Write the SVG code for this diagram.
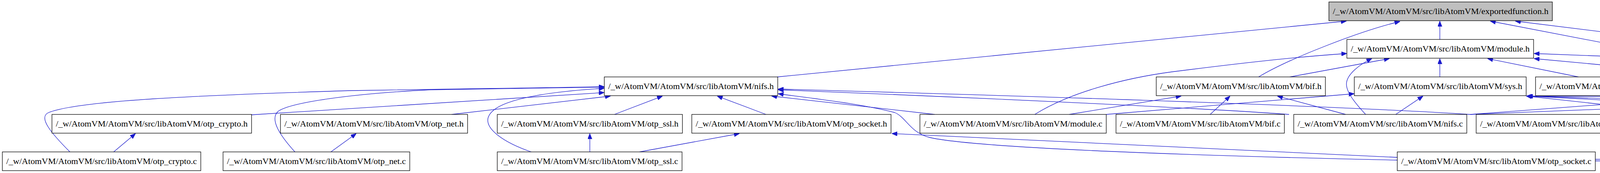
<svg xmlns="http://www.w3.org/2000/svg" width="6506" height="443" viewBox="0 0 6506 443">
<style>
.n rect{fill:#fff;stroke:#000;stroke-width:1.3}
.cur rect{fill:#bfbfbf}
.n text{font-family:"Liberation Serif","Times New Roman",serif;font-size:22px;fill:#000}
.e path{fill:none;stroke:#1a1acc;stroke-width:1.3;marker-end:url(#a)}
</style>
<defs>
<marker id="a" markerUnits="userSpaceOnUse" markerWidth="14" markerHeight="11" refX="14" refY="5.5" orient="auto" viewBox="0 0 14 11">
<path d="M0,0 L14,5.5 L0,11 z" fill="#1a1acc" stroke="#1a1acc" stroke-width="1"/>
</marker>
</defs>
<rect width="6506" height="443" fill="#fff"/>
<g id="edges" class="e">
<path d="M1990,197 L3447,54"/>
<path d="M3222,197 C3300,150 3480,80 3584,55"/>
<path d="M3686,101 L3686,54"/>
<path d="M4558,197 L3815,54"/>
<path d="M5033,197 L3879,54"/>
<path d="M2649,293 C2740,236 2880,200 3000,184 C3150,165 3300,147 3448,137"/>
<path d="M3302,197 L3557,150"/>
<path d="M3496,293 C3470,265 3445,235 3447,213 C3449,190 3480,165 3512,150"/>
<path d="M3686,197 L3686,150"/>
<path d="M4041,197 L3808,150"/>
<path d="M4433,197 L3927,150"/>
<path d="M5797,209 L3927,137"/>
<path d="M2737,293 L3024,246"/>
<path d="M3098,293 L3149,246"/>
<path d="M3445,293 L3270,246"/>
<path d="M2832,293 L3467,240"/>
<path d="M3573,293 L3643,246"/>
<path d="M4335,293 L3907,246"/>
<path d="M4807,293 L3910,246"/>
<path d="M5380,293 L3910,246"/>
<path d="M4084,408 C4600,402 5250,385 5312,347 C5342,328 5340,300 5312,283 C5200,258 4500,248 3908,246"/>
<path d="M179,389 C135,345 95,300 125,288 C200,258 500,244 900,232 L1547,222"/>
<path d="M755,389 C715,345 690,305 712,285 C745,262 900,240 1100,230 L1547,223"/>
<path d="M644,294 L1547,237"/>
<path d="M1156,293 L1563,246"/>
<path d="M1360,389 C1290,365 1240,330 1250,300 C1265,255 1400,235 1547,226"/>
<path d="M1573,293 L1696,246"/>
<path d="M1961,293 L1836,246"/>
<path d="M2393,293 L1975,246"/>
<path d="M3577,410 C3100,400 2500,380 2380,352 C2330,340 2320,300 2290,288 C2200,265 2100,255 1992,240"/>
<path d="M3300,293 C3100,278 2500,250 1992,230"/>
<path d="M3764,293 C3400,270 2600,245 1992,228"/>
<path d="M3764,293 L4405,245"/>
<path d="M3764,293 L4968,245"/>
<path d="M4280,293 L4968,246"/>
<path d="M5546,293 L5329,246"/>
<path d="M4084,412 C4900,412 5800,400 5919,347 C5945,335 5950,295 5919,283 C5800,245 5600,235 5472,232"/>
<path d="M6200,293 L6108,246"/>
<path d="M291,389 L347,342"/>
<path d="M847,389 L912,342"/>
<path d="M1510,389 L1510,342"/>
<path d="M1637,389 L1893,342"/>
<path d="M3577,403 L2283,342"/>
</g>
<g id="exportedfunction_h" class="n cur"><rect x="3402" y="5" width="572" height="48"/><text x="3412" y="36" textLength="552" lengthAdjust="spacingAndGlyphs">/_w/AtomVM/AtomVM/src/libAtomVM/exportedfunction.h</text></g>
<g id="module_h" class="n"><rect x="3448" y="101" width="478" height="48"/><text x="3458" y="132" textLength="458" lengthAdjust="spacingAndGlyphs">/_w/AtomVM/AtomVM/src/libAtomVM/module.h</text></g>
<g id="nifs_h" class="n"><rect x="1547" y="197" width="444" height="48"/><text x="1557" y="228" textLength="424" lengthAdjust="spacingAndGlyphs">/_w/AtomVM/AtomVM/src/libAtomVM/nifs.h</text></g>
<g id="bif_h" class="n"><rect x="2960" y="197" width="433" height="48"/><text x="2970" y="228" textLength="413" lengthAdjust="spacingAndGlyphs">/_w/AtomVM/AtomVM/src/libAtomVM/bif.h</text></g>
<g id="sys_h" class="n"><rect x="3467" y="197" width="440" height="48"/><text x="3477" y="228" textLength="420" lengthAdjust="spacingAndGlyphs">/_w/AtomVM/AtomVM/src/libAtomVM/sys.h</text></g>
<g id="term_c" class="n"><rect x="3931" y="197" width="454" height="48"/><text x="3941" y="228" textLength="434" lengthAdjust="spacingAndGlyphs">/_w/AtomVM/AtomVM/src/libAtomVM/term.c</text></g>
<g id="platform_nifs_h" class="n"><rect x="4409" y="197" width="535" height="48"/><text x="4419" y="228" textLength="515" lengthAdjust="spacingAndGlyphs">/_w/AtomVM/AtomVM/src/libAtomVM/platform_nifs.h</text></g>
<g id="posix_nifs_h" class="n"><rect x="4968" y="197" width="503" height="48"/><text x="4978" y="228" textLength="483" lengthAdjust="spacingAndGlyphs">/_w/AtomVM/AtomVM/src/libAtomVM/posix_nifs.h</text></g>
<g id="stacktrace_h" class="n"><rect x="5797" y="197" width="510" height="48"/><text x="5807" y="228" textLength="490" lengthAdjust="spacingAndGlyphs">/_w/AtomVM/AtomVM/src/libAtomVM/stacktrace.h</text></g>
<g id="otp_crypto_h" class="n"><rect x="133" y="293" width="511" height="48"/><text x="143" y="324" textLength="491" lengthAdjust="spacingAndGlyphs">/_w/AtomVM/AtomVM/src/libAtomVM/otp_crypto.h</text></g>
<g id="otp_net_h" class="n"><rect x="718" y="293" width="479" height="48"/><text x="728" y="324" textLength="459" lengthAdjust="spacingAndGlyphs">/_w/AtomVM/AtomVM/src/libAtomVM/otp_net.h</text></g>
<g id="otp_ssl_h" class="n"><rect x="1273" y="293" width="474" height="48"/><text x="1283" y="324" textLength="454" lengthAdjust="spacingAndGlyphs">/_w/AtomVM/AtomVM/src/libAtomVM/otp_ssl.h</text></g>
<g id="otp_socket_h" class="n"><rect x="1771" y="293" width="510" height="48"/><text x="1781" y="324" textLength="490" lengthAdjust="spacingAndGlyphs">/_w/AtomVM/AtomVM/src/libAtomVM/otp_socket.h</text></g>
<g id="module_c" class="n"><rect x="2355" y="293" width="477" height="48"/><text x="2365" y="324" textLength="457" lengthAdjust="spacingAndGlyphs">/_w/AtomVM/AtomVM/src/libAtomVM/module.c</text></g>
<g id="bif_c" class="n"><rect x="2857" y="293" width="431" height="48"/><text x="2867" y="324" textLength="411" lengthAdjust="spacingAndGlyphs">/_w/AtomVM/AtomVM/src/libAtomVM/bif.c</text></g>
<g id="nifs_c" class="n"><rect x="3312" y="293" width="443" height="48"/><text x="3322" y="324" textLength="423" lengthAdjust="spacingAndGlyphs">/_w/AtomVM/AtomVM/src/libAtomVM/nifs.c</text></g>
<g id="posix_nifs_c" class="n"><rect x="3779" y="293" width="501" height="48"/><text x="3789" y="324" textLength="481" lengthAdjust="spacingAndGlyphs">/_w/AtomVM/AtomVM/src/libAtomVM/posix_nifs.c</text></g>
<g id="context_c" class="n"><rect x="4305" y="293" width="479" height="48"/><text x="4315" y="324" textLength="459" lengthAdjust="spacingAndGlyphs">/_w/AtomVM/AtomVM/src/libAtomVM/context.c</text></g>
<g id="resources_c" class="n"><rect x="4808" y="293" width="500" height="48"/><text x="4818" y="324" textLength="480" lengthAdjust="spacingAndGlyphs">/_w/AtomVM/AtomVM/src/libAtomVM/resources.c</text></g>
<g id="globalcontext_c" class="n"><rect x="5384" y="293" width="536" height="48"/><text x="5394" y="324" textLength="516" lengthAdjust="spacingAndGlyphs">/_w/AtomVM/AtomVM/src/libAtomVM/globalcontext.c</text></g>
<g id="stacktrace_c" class="n"><rect x="5995" y="293" width="510" height="48"/><text x="6005" y="324" textLength="490" lengthAdjust="spacingAndGlyphs">/_w/AtomVM/AtomVM/src/libAtomVM/stacktrace.c</text></g>
<g id="otp_crypto_c" class="n"><rect x="6" y="389" width="508" height="48"/><text x="16" y="420" textLength="488" lengthAdjust="spacingAndGlyphs">/_w/AtomVM/AtomVM/src/libAtomVM/otp_crypto.c</text></g>
<g id="otp_net_c" class="n"><rect x="571" y="389" width="478" height="48"/><text x="581" y="420" textLength="458" lengthAdjust="spacingAndGlyphs">/_w/AtomVM/AtomVM/src/libAtomVM/otp_net.c</text></g>
<g id="otp_ssl_c" class="n"><rect x="1273" y="389" width="473" height="48"/><text x="1283" y="420" textLength="453" lengthAdjust="spacingAndGlyphs">/_w/AtomVM/AtomVM/src/libAtomVM/otp_ssl.c</text></g>
<g id="otp_socket_c" class="n"><rect x="3577" y="389" width="507" height="48"/><text x="3587" y="420" textLength="487" lengthAdjust="spacingAndGlyphs">/_w/AtomVM/AtomVM/src/libAtomVM/otp_socket.c</text></g>
</svg>
